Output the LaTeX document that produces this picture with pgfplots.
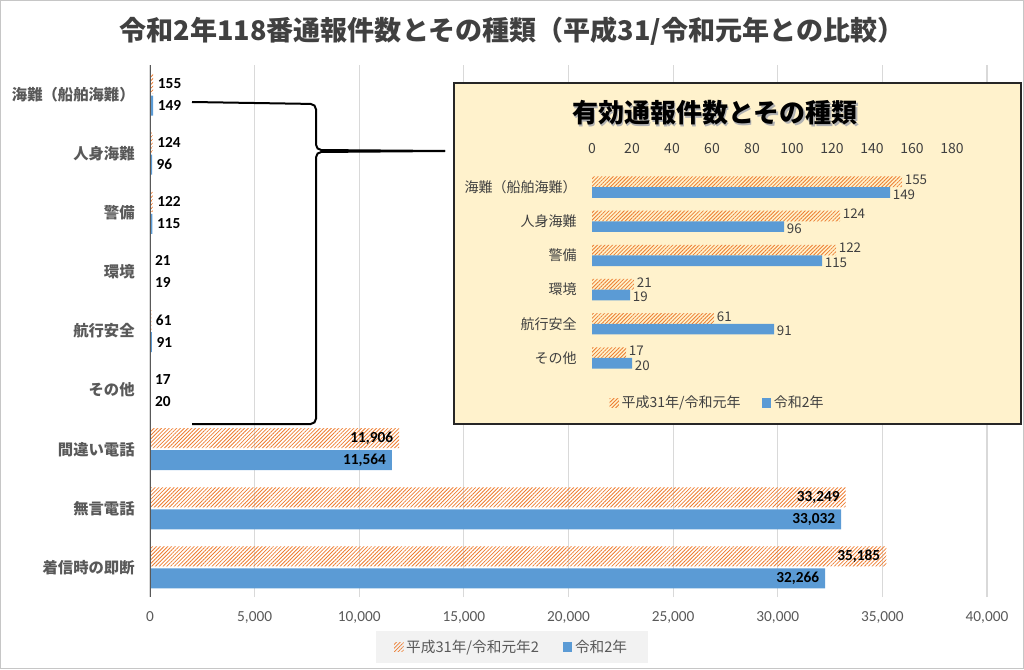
\documentclass[border=0pt]{standalone}
\usepackage{pgfplots}
\pgfplotsset{compat=1.18}
\usetikzlibrary{patterns.meta}
\usepackage{fontspec}
\setmainfont{Carlito}
\newfontfamily\jp{Noto Sans CJK JP}

\definecolor{hatch}{HTML}{ED7D31}
\definecolor{barblue}{HTML}{5B9BD5}
\definecolor{txtgray}{HTML}{595959}
\definecolor{titlegray}{HTML}{404040}
\definecolor{gridgray}{HTML}{D9D9D9}
\definecolor{boxfill}{HTML}{FFF2CC}
\definecolor{legfill}{HTML}{F2F2F2}

\tikzset{orangehatch/.style={pattern={Lines[angle=45,distance=2pt,line width=0.6pt]}, pattern color=hatch}}

\begin{document}
\begin{tikzpicture}

% ---- main chart ----
\begin{axis}[
  at={(112.5pt,54pt)}, anchor=south west,
  scale only axis, width=627.75pt, height=399pt,
  xbar, bar width=15pt,
  xmin=0, xmax=40000, ymin=-0.5, ymax=8.5,
  xtick={0,5000,...,40000},
  ytick={0,...,8},
  yticklabels={着信時の即断,無言電話,間違い電話,その他,航行安全,環境,警備,人身海難,海難（船舶海難）},
  yticklabel style={font=\jp\bfseries\fontsize{11.5}{13}\selectfont, text=txtgray, xshift=-8pt},
  xticklabel style={font=\fontsize{11.5}{13}\selectfont, text=txtgray, yshift=-7pt},
  /pgf/number format/assume math mode=true,
  /pgf/number format/1000 sep={,},
  scaled x ticks=false,
  xmajorgrids, grid style={gridgray, line width=0.9pt},
  axis line style={draw=none},
  major tick length=0pt,
  legend style={at={(0.4325,-0.094)}, anchor=center, fill=legfill, draw=none,
    legend columns=2, font=\jp\fontsize{11}{13}\selectfont, text=txtgray,
    /tikz/every even column/.append style={column sep=16pt},
    inner xsep=14pt, inner ysep=4.5pt},
  legend image code/.code={\path[#1,draw=none] (0pt,-3.5pt) rectangle (7pt,3.5pt);},
]
% 平成31年/令和元年
\addplot[xbar, bar shift=8.25pt, orangehatch, draw=none, point meta=x,
  nodes near coords,
  every node near coord/.append style={anchor=east, xshift=-1pt, text=black, font=\bfseries\fontsize{11.5}{13}\selectfont}]
  coordinates {(35185,0) (33249,1) (11906,2)};
\addlegendentry{平成31年/令和元年2}
\addplot[xbar, bar shift=8.25pt, orangehatch, draw=none, point meta=x, forget plot,
  nodes near coords,
  every node near coord/.append style={anchor=west, text=black, font=\bfseries\fontsize{11.5}{13}\selectfont}]
  coordinates {(17,3) (61,4) (21,5) (122,6) (124,7) (155,8)};
% 令和2年
\addplot[xbar, bar shift=-8.25pt, fill=barblue, draw=none, point meta=x,
  nodes near coords,
  every node near coord/.append style={anchor=east, xshift=-1pt, text=black, font=\bfseries\fontsize{11.5}{13}\selectfont}]
  coordinates {(32266,0) (33032,1) (11564,2)};
\addlegendentry{令和2年}
\addplot[xbar, bar shift=-8.25pt, fill=barblue, draw=none, point meta=x, forget plot,
  nodes near coords,
  every node near coord/.append style={anchor=west, text=black, font=\bfseries\fontsize{11.5}{13}\selectfont}]
  coordinates {(20,3) (91,4) (19,5) (115,6) (96,7) (149,8)};
\draw[txtgray, line width=1.3pt] (axis cs:0,-0.5) -- (axis cs:0,8.5);
\end{axis}

% ---- decorations in pixel units ----
\begin{scope}[x=0.75pt, y=-0.75pt, yshift=501.75pt]
  \draw[gray!45, line width=0.75pt] (0.5,0.5) rectangle (1023.5,668.5);
  \node[font=\jp\bfseries\fontsize{20.3}{24}\selectfont, text=titlegray] at (512,31)
    {令和2年118番通報件数とその種類（平成31/令和元年との比較）};
  \draw[black, line width=1.5pt, rounded corners=4pt] (192,102) -- (316,104) -- (316,150) -- (445,151);
  \draw[black, line width=1.5pt, rounded corners=4pt] (445,151) -- (316,152) -- (316,424) -- (192,424);
  \filldraw[fill=boxfill, draw=black!85, line width=1.2pt] (454,83) rectangle (1021,424);
  \node[font=\jp\bfseries\fontsize{19.5}{22}\selectfont, text=gray!60] at (716.5,114.5) {有効通報件数とその種類};
  \node[font=\jp\bfseries\fontsize{19.5}{22}\selectfont, text=black] at (715,113) {有効通報件数とその種類};
\end{scope}

% ---- inset chart ----
\begin{axis}[
  at={(444pt,220.5pt)}, anchor=south west,
  scale only axis, width=270pt, height=153.75pt,
  xbar, bar width=8pt,
  xmin=0, xmax=180, ymin=-0.5, ymax=5.5,
  xtick={0,20,...,180},
  axis x line*=top, axis y line*=left,
  axis line style={draw=none},
  ytick={0,...,5},
  yticklabels={その他,航行安全,環境,警備,人身海難,海難（船舶海難）},
  yticklabel style={font=\jp\fontsize{10.5}{12}\selectfont, text=titlegray, xshift=-8pt},
  xticklabel style={font=\jp\fontsize{10.5}{12}\selectfont, text=titlegray, yshift=8.5pt},
  /pgf/number format/assume math mode=true,
  major tick length=0pt,
  legend style={at={(0.35,-0.137)}, anchor=center, fill=none, draw=none,
    legend columns=2, font=\jp\fontsize{10.5}{12}\selectfont, text=titlegray,
    /tikz/every even column/.append style={column sep=14pt}},
  legend image code/.code={\path[#1,draw=none] (0pt,-3.5pt) rectangle (7pt,3.5pt);},
]
\addplot[xbar, bar shift=4pt, orangehatch, draw=none, point meta=x,
  nodes near coords,
  every node near coord/.append style={anchor=west, text=titlegray, font=\jp\fontsize{10}{11}\selectfont, inner sep=2pt, yshift=1.5pt}]
  coordinates {(17,0) (61,1) (21,2) (122,3) (124,4) (155,5)};
\addlegendentry{平成31年/令和元年}
\addplot[xbar, bar shift=-4pt, fill=barblue, draw=none, point meta=x,
  nodes near coords,
  every node near coord/.append style={anchor=west, text=titlegray, font=\jp\fontsize{10}{11}\selectfont, inner sep=2pt, yshift=-1.5pt}]
  coordinates {(20,0) (91,1) (19,2) (115,3) (96,4) (149,5)};
\addlegendentry{令和2年}
\end{axis}

\pgfresetboundingbox
\useasboundingbox (0,0) rectangle (768pt,501.75pt);
\end{tikzpicture}
\end{document}
